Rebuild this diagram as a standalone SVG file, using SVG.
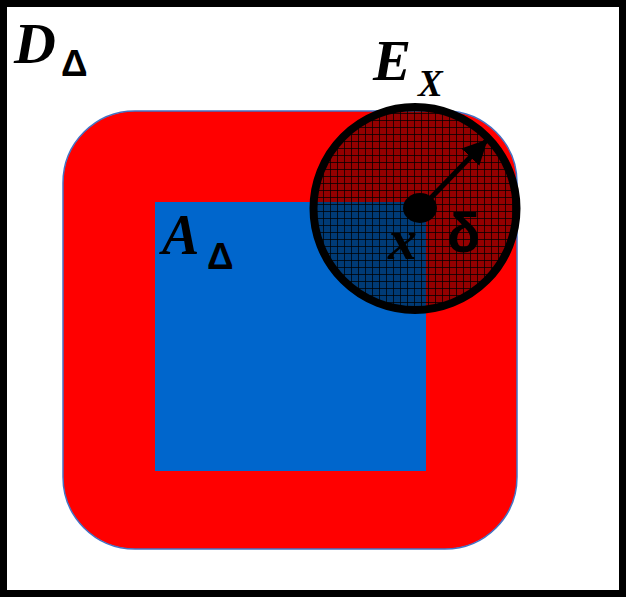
<svg xmlns="http://www.w3.org/2000/svg" width="626" height="597" viewBox="0 0 626 597">
<defs>
<style>
.serif{font-family:"Liberation Serif","Times New Roman",serif;font-weight:bold;font-style:italic;fill:#000}
.sans{font-family:"Liberation Sans",Arial,sans-serif;font-weight:bold;fill:#000}
</style>
<pattern id="grid" width="7" height="7" patternUnits="userSpaceOnUse" x="1" y="1">
<rect width="7" height="7" fill="#000" fill-opacity="0.42"/>
<path d="M0 0.5H7M0.5 0V7" stroke="#000" stroke-width="1" stroke-opacity="0.75"/>
</pattern>
<marker id="ah" viewBox="0 0 10 10" refX="9" refY="5" markerWidth="5" markerHeight="5" orient="auto" markerUnits="strokeWidth">
<path d="M0 0L10 5L0 10z" fill="#000"/>
</marker>
</defs>
<rect x="0" y="0" width="626" height="597" fill="#fff"/>
<rect x="3.5" y="3.5" width="619" height="590" fill="none" stroke="#000" stroke-width="7"/>
<g id="D">
<rect x="63" y="111" width="454" height="438" rx="72" ry="72" fill="#ff0000" stroke="#4472c4" stroke-width="1.5"/>
<text class="serif" x="14" y="63" font-size="58">D</text>
<text class="sans" x="61" y="76" font-size="37">Δ</text>
</g>
<g id="A">
<rect x="155" y="202" width="271" height="269" fill="#0066cc"/>
<text class="serif" x="162" y="254" font-size="56">A</text>
<text class="sans" x="207" y="269" font-size="37">Δ</text>
</g>
<g id="E">
<circle cx="415" cy="208.5" r="101.5" fill="url(#grid)" stroke="#000" stroke-width="8"/>
<text class="serif" x="373" y="80" font-size="57">E</text>
<text class="serif" x="418" y="96" font-size="37">X</text>
</g>
<g id="x">
<ellipse cx="420" cy="208" rx="17" ry="15" fill="#000"/>
<text class="serif" x="388" y="259" font-size="58">x</text>
<text class="sans" x="447" y="252" font-size="55">δ</text>
</g>
<g id="connectors">
<line x1="424" y1="205" x2="486" y2="141" stroke="#000" stroke-width="5" marker-end="url(#ah)"/>
</g>
</svg>
